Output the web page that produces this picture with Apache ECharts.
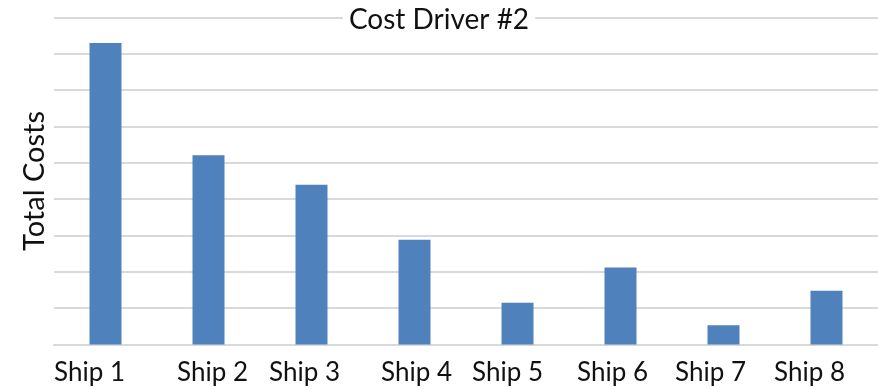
<!DOCTYPE html>
<html>
<head>
<meta charset="utf-8">
<script src="https://cdn.jsdelivr.net/npm/echarts@6/dist/echarts.min.js"></script>
<style>
  html, body { margin: 0; padding: 0; background: #fff; }
  #chart { width: 878px; height: 389px; }
</style>
</head>
<body>
<div id="chart"></div>
<script>
// Ships along the category axis
const ships = ['Ship 1', 'Ship 2', 'Ship 3', 'Ship 4', 'Ship 5', 'Ship 6', 'Ship 7', 'Ship 8'];
// Total cost per ship (in gridline units)
const totalCosts = [8.30, 5.21, 4.40, 2.88, 1.15, 2.12, 0.53, 1.48];
// Horizontal nudge of each category label, in px (negative = left)
const labelNudge = [-16, 4, -7, 2, -10, -8, -13, -17];

const FONT = 'Lato';

// one rich style per label so each can be nudged sideways
const rich = {};
labelNudge.forEach((n, i) => {
  rich['l' + i] = {
    fontFamily: FONT,
    fontSize: 26,
    color: '#111',
    padding: n < 0 ? [0, -2 * n, 0, 0] : [0, 0, 0, 2 * n]
  };
});

const chart = echarts.init(document.getElementById('chart'), null, { renderer: 'canvas' });
chart.setOption({
  animation: false,
  backgroundColor: '#fff',
  title: {
    text: 'Cost Driver #2',
    left: 'center',
    top: 4,
    backgroundColor: '#fff',
    padding: [2, 6],
    textStyle: { fontFamily: FONT, fontSize: 28, fontWeight: 'normal', color: '#111' }
  },
  grid: { left: 54, right: -2, top: 17.5, bottom: 44.5, containLabel: false },
  xAxis: {
    type: 'category',
    data: ships,
    axisLine: { show: true, lineStyle: { color: '#d9d9d9', width: 2 } },
    axisTick: { show: false },
    axisLabel: {
      margin: 15,
      interval: 0,
      formatter: (v, i) => '{l' + i + '|' + v + '}',
      rich: rich
    }
  },
  yAxis: {
    type: 'value',
    min: 0,
    max: 9,
    interval: 1,
    name: 'Total Costs',
    nameLocation: 'middle',
    nameGap: 5,
    nameTextStyle: { fontFamily: FONT, fontSize: 29, color: '#111' },
    axisLine: { show: false },
    axisTick: { show: false },
    axisLabel: { show: false },
    splitLine: { lineStyle: { color: '#d9d9d9', width: 2 } }
  },
  series: [{
    type: 'bar',
    data: totalCosts,
    barWidth: 32,
    itemStyle: { color: '#4f81bd' }
  }]
});
</script>
</body>
</html>
